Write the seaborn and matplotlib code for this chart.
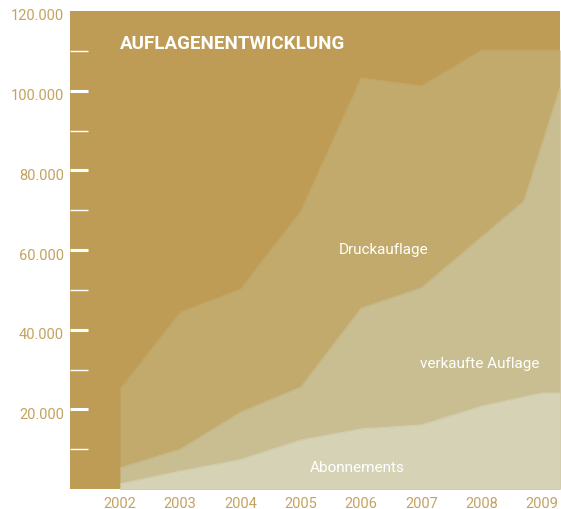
import pandas as pd
import seaborn as sns
import matplotlib.pyplot as plt
import matplotlib.transforms as mtransforms
from matplotlib.ticker import FixedLocator

# data (years, values per series)
years = [2002, 2003, 2004, 2005, 2006, 2007, 2008, 2009]
druck_x = [2002, 2003, 2004, 2005, 2006, 2007, 2008, 2009, 2009.3]
druck = [25100, 44400, 50200, 69800, 103200, 101200, 110200, 110200, 110200]
verkauft_x = [2002, 2003, 2004, 2005, 2006, 2007, 2008.7, 2009.3]
verkauft = [5300, 10000, 19300, 25600, 45400, 50500, 72300, 100800]
abo_x = [2002, 2003, 2004, 2005, 2006, 2007, 2008, 2009, 2009.3]
abo = [1300, 4500, 7400, 12300, 15100, 16100, 20800, 24100, 24100]
ytick_vals = [20000, 40000, 60000, 80000, 100000, 120000]
ytick_labels = ["20.000", "40.000", "60.000", "80.000", "100.000", "120.000"]

bg = "#BF9C55"
gold_text = "#C4A362"
col_druck = "#C1AA6C"
col_verkauft = "#C9BE91"
col_abo = "#D6D2B5"

sns.set_style("white")
plt.rcParams['font.family'] = ['Roboto', 'DejaVu Sans']

fig = plt.figure(figsize=(5.61, 5.10), dpi=100)
ax = fig.add_axes([70 / 561, 20 / 510, 490 / 561, 478 / 510])
ax.set_facecolor(bg)

# Flächen übereinander (nicht gestapelt)
for xs, vals, col in [(druck_x, druck, col_druck),
                      (verkauft_x, verkauft, col_verkauft),
                      (abo_x, abo, col_abo)]:
    d = pd.DataFrame({"Jahr": xs, "Wert": vals})
    ax.fill_between(d["Jahr"], 0, d["Wert"], color=col, linewidth=0)
    sns.lineplot(data=d, x="Jahr", y="Wert", color=col, linewidth=0.6, ax=ax)

ax.set_xlim(2001.17, 2009.30)
ax.set_ylim(0, 120000)

for s in ax.spines.values():
    s.set_visible(False)

ax.set_xticks(years)
ax.set_xticklabels([str(y) for y in years])
ax.tick_params(axis="x", bottom=True, length=0, pad=5, labelsize=10.5,
               labelcolor=gold_text)

ax.set_yticks(ytick_vals)
ax.set_yticklabels(ytick_labels)
ax.yaxis.set_minor_locator(FixedLocator([10000, 30000, 50000, 70000, 90000, 110000]))
ax.tick_params(axis="y", which="major", left=True, direction="in", length=13,
               width=2.2, color="white", pad=4.5, labelsize=10.5,
               labelcolor=gold_text)
ax.tick_params(axis="y", which="minor", left=True, direction="in", length=13,
               width=1.0, color="white")
ax.yaxis.get_major_ticks()[-1].tick1line.set_visible(False)

# Beschriftung der y-Achse etwas tiefer setzen
shift = mtransforms.ScaledTranslation(0, -3 / 100, fig.dpi_scale_trans)
for lbl in ax.get_yticklabels():
    lbl.set_transform(lbl.get_transform() + shift)

ax.set_xlabel("")
ax.set_ylabel("")

ax.text(2002.0, 112000, "AUFLAGENENTWICKLUNG", color="white", fontsize=13.5,
        fontweight="bold", ha="left", va="center")
ax.text(2006.38, 60200, "Druckauflage", color="white", fontsize=11,
        ha="center", va="center")
ax.text(2007.97, 31600, "verkaufte Auflage", color="white", fontsize=11,
        ha="center", va="center")
ax.text(2005.93, 5500, "Abonnements", color="white", fontsize=11,
        ha="center", va="center")

plt.savefig("out.png", dpi=100)
